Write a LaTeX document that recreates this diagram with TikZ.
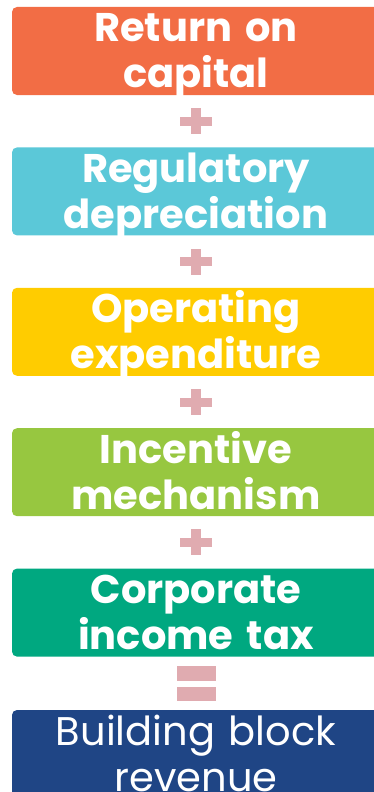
\documentclass[tikz,border=0pt]{standalone}
\usepackage{fontspec}
\setmainfont{Poppins}
\usepackage{tikz}
\usetikzlibrary{calc,positioning}
\definecolor{roccol}{HTML}{F26D45}
\definecolor{depcol}{HTML}{5BC8D8}
\definecolor{opexcol}{HTML}{FFCC00}
\definecolor{inccol}{HTML}{97C740}
\definecolor{taxcol}{HTML}{00A880}
\definecolor{revcol}{HTML}{1F4585}
\definecolor{signcol}{HTML}{E0ABB0}
\tikzstyle{block}=[rounded corners=5pt,inner sep=0pt,minimum width=368pt,text width=368pt,align=center,text=white,font=\fontsize{40}{46}\selectfont\bfseries,text height=35pt,text depth=53pt]
\tikzstyle{sign}=[fill=signcol,draw=none]

\begin{document}
\begin{tikzpicture}[x=1pt,y=-1pt]
        \useasboundingbox (0,0) rectangle (373,792);
        \node[block,fill=roccol] (roc) at (196,51) {Return on\\capital};
        \node[block,fill=depcol,below=52pt of roc] (dep) {Regulatory\\depreciation};
        \node[block,fill=opexcol,below=52pt of dep] (opex) {Operating\\expenditure};
        \node[block,fill=inccol,below=52pt of opex] (inc) {Incentive\\mechanism};
        \node[block,fill=taxcol,below=52pt of inc] (tax) {Corporate\\income tax};
        \node[block,fill=revcol,below=53pt of tax,font=\fontsize{40}{46}\selectfont] (rev) {Building block\\revenue};
        % plus signs between the blocks
        \foreach \a/\b in {roc/dep,dep/opex,opex/inc,inc/tax} {
          \coordinate (p) at ($(\a.south)!.5!(\b.north)$);
          \fill[sign] ($(p)+(-16,-4.5)$) rectangle ($(p)+(16,4.5)$);
          \fill[sign] ($(p)+(-5,-13)$) rectangle ($(p)+(5,13)$);
        }
        % equals sign
        \coordinate (eq) at ($(tax.south)!.5!(rev.north)$);
        \fill[sign] ($(eq)+(-19.5,-17.5)$) rectangle ($(eq)+(19.5,-2.5)$);
        \fill[sign] ($(eq)+(-19.5,3.5)$) rectangle ($(eq)+(19.5,17.5)$);
      \end{tikzpicture}
\end{document}
